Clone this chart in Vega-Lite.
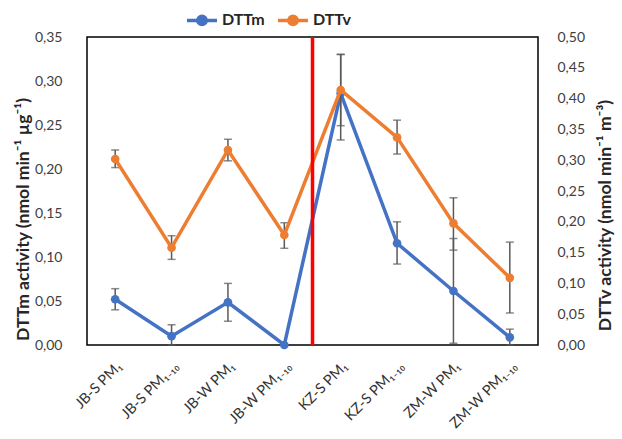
{
  "$schema": "https://vega.github.io/schema/vega-lite/v6.json",
  "width": 451,
  "height": 308,
  "autosize": {"type": "none"},
  "padding": {"left": 87, "top": 37, "right": 84, "bottom": 94},
  "config": {
    "locale": {"number": {"decimal": ",", "thousands": ".", "grouping": [3], "currency": ["", "€"]}},
    "view": {"stroke": "#000000", "strokeWidth": 1.5},
    "font": "Lato",
    "axis": {"grid": false, "domain": false, "ticks": false, "tickSize": 0, "labelColor": "#404040", "titleColor": "#262626", "labelFontSize": 14, "titleFontSize": 17.5, "titleFontWeight": "bold"}
  },
  "data": {
    "values": [
      {"cat": "JB-S PM₁", "series": "DTTm", "value": 0.052, "lo": 0.040, "hi": 0.064},
      {"cat": "JB-S PM₁₋₁₀", "series": "DTTm", "value": 0.010, "lo": 0.0, "hi": 0.023},
      {"cat": "JB-W PM₁", "series": "DTTm", "value": 0.0485, "lo": 0.027, "hi": 0.070},
      {"cat": "JB-W PM₁₋₁₀", "series": "DTTm", "value": 0.0, "lo": 0.0, "hi": 0.0},
      {"cat": "KZ-S PM₁", "series": "DTTm", "value": 0.286, "lo": 0.233, "hi": 0.330},
      {"cat": "KZ-S PM₁₋₁₀", "series": "DTTm", "value": 0.1156, "lo": 0.092, "hi": 0.140},
      {"cat": "ZM-W PM₁", "series": "DTTm", "value": 0.0614, "lo": 0.002, "hi": 0.121},
      {"cat": "ZM-W PM₁₋₁₀", "series": "DTTm", "value": 0.0087, "lo": 0.0, "hi": 0.018},
      {"cat": "JB-S PM₁", "series": "DTTv", "value": 0.302, "lo": 0.288, "hi": 0.3166},
      {"cat": "JB-S PM₁₋₁₀", "series": "DTTv", "value": 0.158, "lo": 0.139, "hi": 0.1774},
      {"cat": "JB-W PM₁", "series": "DTTv", "value": 0.3166, "lo": 0.299, "hi": 0.334},
      {"cat": "JB-W PM₁₋₁₀", "series": "DTTv", "value": 0.1786, "lo": 0.157, "hi": 0.1985},
      {"cat": "KZ-S PM₁", "series": "DTTv", "value": 0.414, "lo": 0.356, "hi": 0.472},
      {"cat": "KZ-S PM₁₋₁₀", "series": "DTTv", "value": 0.337, "lo": 0.310, "hi": 0.365},
      {"cat": "ZM-W PM₁", "series": "DTTv", "value": 0.1975, "lo": 0.154, "hi": 0.239},
      {"cat": "ZM-W PM₁₋₁₀", "series": "DTTv", "value": 0.109, "lo": 0.052, "hi": 0.167}
    ]
  },
  "encoding": {
    "x": {
      "field": "cat", "type": "nominal", "bandPosition": 0.5,
      "sort": ["JB-S PM₁", "JB-S PM₁₋₁₀", "JB-W PM₁", "JB-W PM₁₋₁₀", "KZ-S PM₁", "KZ-S PM₁₋₁₀", "ZM-W PM₁", "ZM-W PM₁₋₁₀"],
      "scale": {"type": "band", "paddingInner": 0, "paddingOuter": 0},
      "axis": {"title": null, "labelAngle": -45, "labelFontSize": 14.5, "labelPadding": 14, "labelColor": "#333333"}
    }
  },
  "layer": [
    {
      "transform": [{"filter": "datum.series === 'DTTm'"}],
      "encoding": {
        "y": {
          "field": "value", "type": "quantitative",
          "scale": {"domain": [0, 0.35], "nice": false},
          "axis": {"orient": "left", "values": [0, 0.05, 0.1, 0.15, 0.2, 0.25, 0.3, 0.35], "format": ".2f", "labelPadding": 25, "titleAngle": 270, "titleAlign": "center", "titleBaseline": "middle", "titleX": -64, "titleY": 182, "title": "DTTm activity (nmol min⁻¹ µg⁻¹)"}
        }
      },
      "layer": [
        {"mark": {"type": "rule", "color": "#595959", "strokeWidth": 1.5}, "encoding": {"y": {"field": "lo", "type": "quantitative"}, "y2": {"field": "hi"}}},
        {"mark": {"type": "tick", "color": "#595959", "thickness": 1.5, "size": 8}, "encoding": {"y": {"field": "lo", "type": "quantitative"}}},
        {"mark": {"type": "tick", "color": "#595959", "thickness": 1.5, "size": 8}, "encoding": {"y": {"field": "hi", "type": "quantitative"}}},
        {"mark": {"type": "line", "strokeWidth": 3.5}, "encoding": {"color": {"field": "series", "type": "nominal", "scale": {"domain": ["DTTm", "DTTv"], "range": ["#4472C4", "#ED7D31"]}, "legend": {"orient": "none", "legendX": 98, "legendY": -34, "direction": "horizontal", "title": null, "labelFontSize": 16, "labelFontWeight": "bold", "labelColor": "#262626", "symbolType": "M-1,0H1M-0.28,0A0.28,0.28 0 1,0 0.28,0A0.28,0.28 0 1,0 -0.28,0Z", "symbolSize": 900, "symbolStrokeWidth": 3.5, "columnPadding": 6, "labelOffset": 3, "encode": {"symbols": {"update": {"fill": {"scale": "color", "field": "value"}, "stroke": {"scale": "color", "field": "value"}}}}}}}},
        {"mark": {"type": "point", "filled": true, "size": 75, "opacity": 1}, "encoding": {"color": {"field": "series", "type": "nominal", "legend": null}}}
      ]
    },
    {
      "transform": [{"filter": "datum.series === 'DTTv'"}],
      "encoding": {
        "y": {
          "field": "value", "type": "quantitative",
          "scale": {"domain": [0, 0.5], "nice": false},
          "axis": {"orient": "right", "values": [0, 0.05, 0.1, 0.15, 0.2, 0.25, 0.3, 0.35, 0.4, 0.45, 0.5], "format": ".2f", "labelPadding": 19, "titleAngle": 270, "titleAlign": "center", "titleBaseline": "middle", "titleX": 67, "titleY": 178, "title": "DTTv activity (nmol min⁻¹ m⁻³)"}
        }
      },
      "layer": [
        {"mark": {"type": "rule", "color": "#595959", "strokeWidth": 1.5}, "encoding": {"y": {"field": "lo", "type": "quantitative"}, "y2": {"field": "hi"}}},
        {"mark": {"type": "tick", "color": "#595959", "thickness": 1.5, "size": 8}, "encoding": {"y": {"field": "lo", "type": "quantitative"}}},
        {"mark": {"type": "tick", "color": "#595959", "thickness": 1.5, "size": 8}, "encoding": {"y": {"field": "hi", "type": "quantitative"}}},
        {"mark": {"type": "line", "strokeWidth": 3.5}, "encoding": {"color": {"field": "series", "type": "nominal", "legend": null}}},
        {"mark": {"type": "point", "filled": true, "size": 75, "opacity": 1}, "encoding": {"color": {"field": "series", "type": "nominal", "legend": null}}}
      ]
    },
    {
      "data": {"values": [{"cat": "KZ-S PM₁"}]},
      "mark": {"type": "rule", "color": "#FF0000", "strokeWidth": 3.5},
      "encoding": {"x": {"field": "cat", "type": "nominal", "bandPosition": 0}}
    }
  ],
  "resolve": {"scale": {"y": "independent"}}
}
